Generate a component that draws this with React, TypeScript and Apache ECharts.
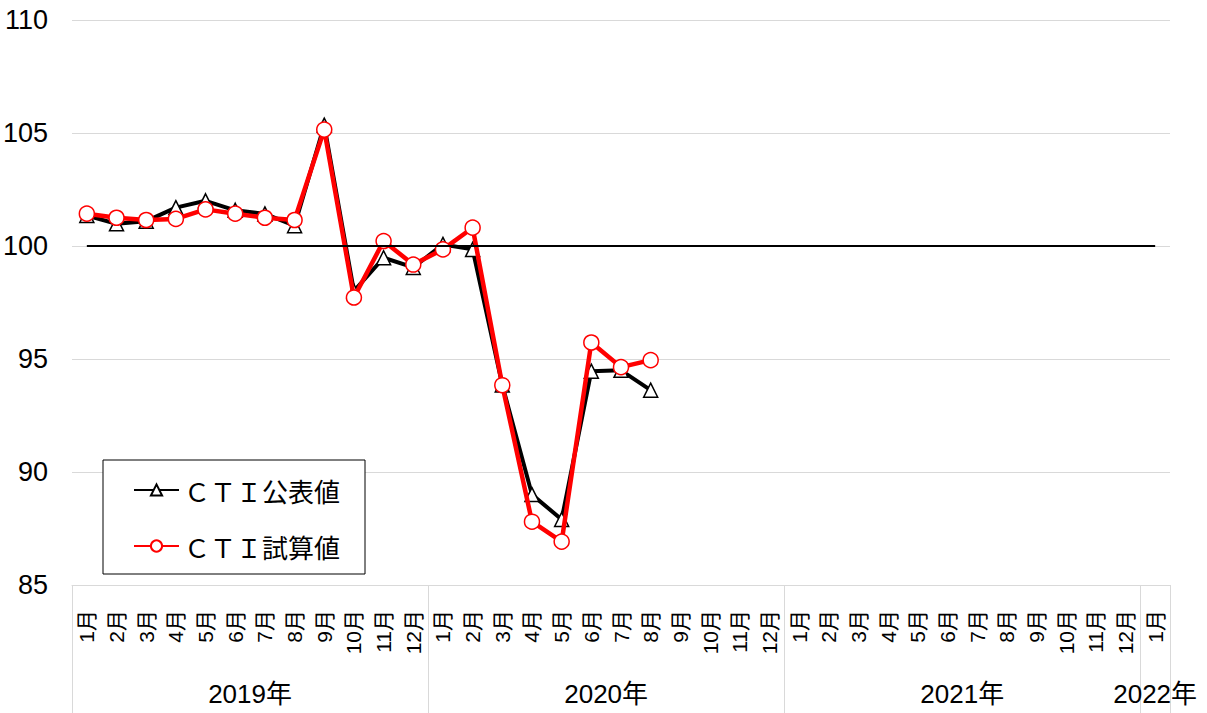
import React, { useEffect, useRef } from "react";
import * as echarts from "echarts";

const years = ["2019年", "2020年", "2021年", "2022年"];
const monthLabels = ["1月", "2月", "3月", "4月", "5月", "6月", "7月", "8月", "9月", "10月", "11月", "12月"];
// months shown per year block
const monthsPerYear = [12, 12, 12, 1];

const publishedName = "ＣＴＩ公表値";
const trialName = "ＣＴＩ試算値";

const publishedValues = [
  101.35, 100.98, 101.1, 101.7, 102.0, 101.58, 101.42, 100.9, 105.35, 98.0, 99.48, 99.05,
  100.07, 99.85, 93.85, 89.0, 87.9, 94.46, 94.5, 93.62,
];
const trialValues = [
  101.43, 101.25, 101.15, 101.2, 101.62, 101.43, 101.25, 101.15, 105.15, 97.72, 100.22, 99.18,
  99.85, 100.81, 93.84, 87.8, 86.92, 95.73, 94.64, 94.95,
];
const baseValue = 100;
const yTicks = [85, 90, 95, 100, 105, 110];

const categories: string[] = [];
const categoryMonth: string[] = [];
years.forEach((y, yi) => {
  for (let m = 0; m < monthsPerYear[yi]; m++) {
    categories.push(y + monthLabels[m]);
    categoryMonth.push(monthLabels[m]);
  }
});

// year block boundaries and centers in category-index units
const yearBounds: number[] = [-0.5];
const yearCenters: number[] = [];
{
  let start = -0.5;
  monthsPerYear.forEach((n) => {
    yearCenters.push(n === 1 ? start + 0.5 : start + n / 2);
    start += n;
    yearBounds.push(start);
  });
}

const FONT = "'Liberation Sans', 'Noto Sans CJK JP', sans-serif";
const CJK = "'Noto Sans CJK JP', sans-serif";

export default function App() {
  const ref = useRef<HTMLDivElement>(null);
  useEffect(() => {
    if (!ref.current) return;
    const chart = echarts.init(ref.current, undefined, { renderer: "svg" });
    chart.setOption({
      animation: false,
      backgroundColor: "#ffffff",
      grid: { left: 72, right: 37, top: 20, bottom: 128, containLabel: false, outerBoundsMode: "none" },
      legend: {
        orient: "vertical",
        left: 103,
        top: 460,
        padding: [16, 25, 14, 30],
        itemGap: 28,
        itemWidth: 45,
        itemHeight: 14,
        backgroundColor: "#ffffff",
        borderColor: "#000000",
        borderWidth: 1,
        borderRadius: 0,
        textStyle: { fontFamily: CJK, fontSize: 26, color: "#000", lineHeight: 28 },
        data: [publishedName, trialName],
      },
      xAxis: [
        {
          type: "category",
          data: categories,
          boundaryGap: true,
          axisLine: { show: true, lineStyle: { color: "#d9d9d9", width: 1 } },
          axisTick: { show: false },
          splitLine: { show: false },
          axisLabel: {
            interval: 0,
            rotate: 90,
            margin: 25,
            fontFamily: FONT,
            fontSize: 21,
            color: "#000",
            formatter: (_v: string, i: number) => categoryMonth[i],
          },
        },
        {
          type: "value",
          min: -0.5,
          max: categories.length - 0.5,
          position: "bottom",
          axisLine: { show: false },
          splitLine: { show: false },
          axisTick: {
            show: true,
            customValues: yearBounds,
            length: 128,
            lineStyle: { color: "#d9d9d9", width: 1 },
          },
          axisLabel: {
            customValues: yearCenters,
            margin: 96,
            fontFamily: FONT,
            fontSize: 26,
            color: "#000",
            formatter: (v: number) => {
              const idx = yearCenters.findIndex((c) => Math.abs(c - v) < 1e-6);
              return idx >= 0 ? years[idx] : "";
            },
          },
        },
      ],
      yAxis: {
        type: "value",
        min: 85,
        max: 110,
        interval: 5,
        axisLine: { show: false },
        axisTick: { show: false },
        splitLine: { show: true, lineStyle: { color: "#d9d9d9", width: 1 } },
        axisLabel: {
          margin: 24,
          fontFamily: FONT,
          fontSize: 27,
          color: "#000",
          customValues: yTicks,
        },
      },
      series: [
        {
          name: "base",
          type: "line",
          data: [],
          z: 1,
          silent: true,
          markLine: {
            silent: true,
            symbol: "none",
            label: { show: false },
            lineStyle: { color: "#000", width: 2, type: "solid" },
            data: [[{ coord: [0, baseValue] }, { coord: [categories.length - 1, baseValue] }]],
          },
        },
        {
          name: publishedName,
          type: "line",
          data: publishedValues,
          z: 3,
          symbol: "triangle",
          symbolSize: 14,
          showAllSymbol: true,
          lineStyle: { color: "#000000", width: 4 },
          itemStyle: { color: "#ffffff", borderColor: "#000000", borderWidth: 1.5 },
          color: "#000000",
        },
        {
          name: trialName,
          type: "line",
          data: trialValues,
          z: 4,
          symbol: "circle",
          symbolSize: 15,
          showAllSymbol: true,
          lineStyle: { color: "#ff0000", width: 4.5 },
          itemStyle: { color: "#ffffff", borderColor: "#ff0000", borderWidth: 1.5 },
          color: "#ff0000",
        },
      ],
    });
    return () => chart.dispose();
  }, []);
  return (
    <div
      ref={ref}
      style={{ position: "fixed", left: 0, top: 0, width: 1207, height: 713, background: "#fff" }}
    />
  );
}
